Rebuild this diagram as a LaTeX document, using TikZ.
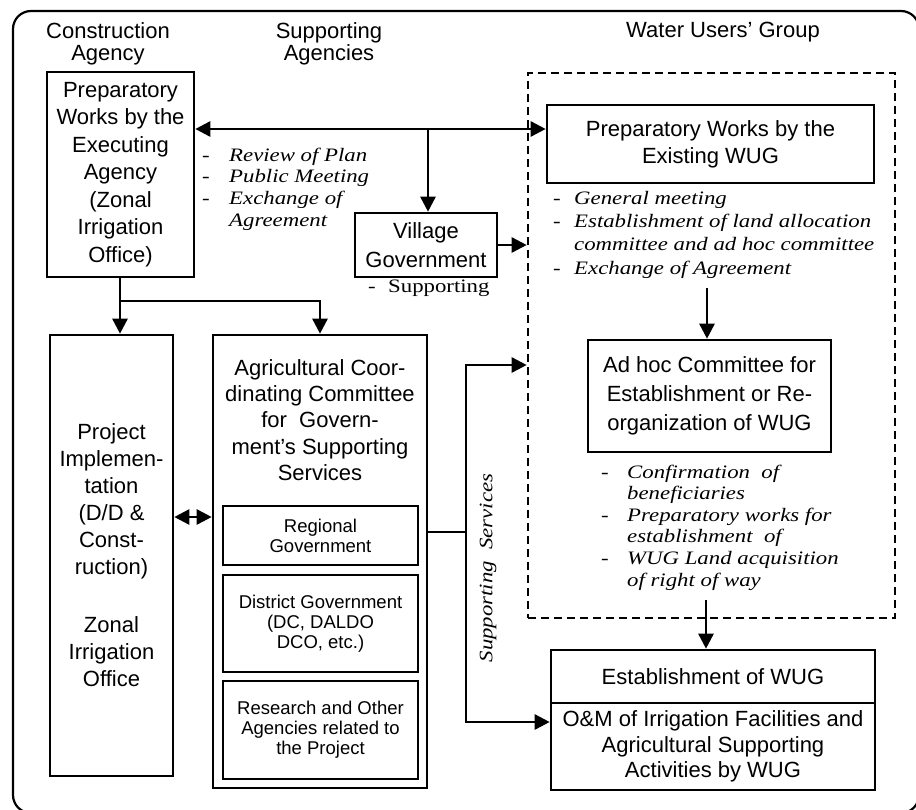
\documentclass[tikz,border=0pt]{standalone}
\usepackage{fontspec}
\setmainfont{Liberation Sans}
\newfontfamily\notefont[FakeStretch=1.2]{Liberation Serif}
\usetikzlibrary{arrows.meta}

\tikzset{
  box/.style={draw, line width=2.6pt, inner sep=0pt, align=center,
    font=\fontsize{22}{27.5}\selectfont},
  smallbox/.style={box, font=\fontsize{18.5}{20.2}\selectfont},
  header/.style={align=center, inner sep=0pt, font=\fontsize{22}{22}\selectfont},
  % notes are placed by the baseline of their last line
  note/.style={align=left, inner sep=0pt, anchor=base west,
    font=\notefont\itshape\fontsize{19}{21.6}\selectfont},
  conn/.style={line width=2.6pt},
  tip/.tip={Triangle[length=15pt, width=15pt]},
}

\begin{document}
\begin{tikzpicture}[x=1pt, y=-1pt]
\useasboundingbox (0,0) rectangle (916,809);
\fill[white] (0,0) rectangle (916,809);

% outer frame, running past the lower and right margins
\begin{scope}
  \clip (0,0) rectangle (916,809);
  \draw[line width=2.2pt, rounded corners=18pt] (13,11) rectangle (919,813);
\end{scope}

% column headings
\node[header] (hdrA) at (108,43.5) {Construction\\Agency};
\node[header] (hdrB) at (329,43.5) {Supporting\\Agencies};
\node[header] (hdrC) at (723,32) {Water Users' Group};

% construction agency column
\node[box, minimum width=147pt, minimum height=205pt] (prepA) at (120.5,174.5)
  {Preparatory\\Works by the\\Executing\\Agency\\(Zonal\\Irrigation\\Office)};
\node[box, minimum width=123pt, minimum height=441pt,
      font=\fontsize{22}{27}\selectfont] (project) at (111.5,555.5)
  {Project\\Implemen-\\tation\\(D/D \&\\Const-\\ruction)\\[31pt]Zonal\\Irrigation\\Office};

% supporting agencies column
\node[box, minimum width=142pt, minimum height=64pt] (village) at (426,245)
  {Village\\[1.5pt]Government};
\node[box, minimum width=214pt, minimum height=453pt] (agric) at (320,561.5) {};
\node[align=center, inner sep=0pt, font=\fontsize{22}{26.3}\selectfont] (agrictext) at (320,420)
  {Agricultural Coor-\\dinating Committee\\for\ \ Govern-\\ment's Supporting\\Services};
\node[smallbox, minimum width=195pt, minimum height=59pt] (regional) at (320.5,535.5)
  {Regional\\Government};
\node[smallbox, minimum width=195pt, minimum height=97pt] (district) at (320.5,623.5)
  {District Government\\(DC, DALDO\\DCO, etc.)};
\node[smallbox, minimum width=195pt, minimum height=98pt] (research) at (320.5,730)
  {Research and Other\\Agencies related to\\the Project};

% water users' group column
\node[draw, line width=2.6pt, dash pattern=on 8pt off 5pt, minimum width=367pt,
      minimum height=545pt, inner sep=0pt] (wug) at (711.5,345.5) {};
\node[box, minimum width=327pt, minimum height=78pt, font=\fontsize{22}{27}\selectfont]
  (wugprep) at (710.5,144) {Preparatory Works by the\\Existing WUG};
\node[box, minimum width=243pt, minimum height=112pt, font=\fontsize{22}{29}\selectfont]
  (adhoc) at (709.5,396) {Ad hoc Committee for\\Establishment or Re-\\organization of WUG};
\node[box, minimum width=324pt, minimum height=53pt] (estab) at (713,676.5)
  {Establishment of WUG};
\node[box, minimum width=324pt, minimum height=87pt, font=\fontsize{22}{25.5}\selectfont]
  (om) at (713,746.5)
  {O\&M of Irrigation Facilities and\\Agricultural Supporting\\Activities by WUG};

% activity notes
\node[note] (noteA) at (202,226)
  {\makebox[27pt][l]{-}Review of Plan\\
   \makebox[27pt][l]{-}Public Meeting\\
   \makebox[27pt][l]{-}Exchange of\\
   \hspace*{27pt}Agreement};
\node[note, font=\notefont\itshape\fontsize{19}{23.3}\selectfont] (noteB) at (553,274)
  {\makebox[21pt][l]{-}General meeting\\
   \makebox[21pt][l]{-}Establishment of land allocation\\
   \hspace*{21pt}committee and ad hoc committee\\
   \makebox[21pt][l]{-}Exchange of Agreement};
\node[note] (noteC) at (601,586)
  {\makebox[26pt][l]{-}Confirmation\ \ of\\
   \hspace*{26pt}beneficiaries\\
   \makebox[26pt][l]{-}Preparatory works for\\
   \hspace*{26pt}establishment\ \ of\\
   \makebox[26pt][l]{-}WUG Land acquisition\\
   \hspace*{26pt}of right of way};
\node[note, font=\notefont\fontsize{19}{21.6}\selectfont] (villnote) at (368,292)
  {\makebox[20pt][l]{-}Supporting};
\node[inner sep=0pt, rotate=90, font=\notefont\itshape\fontsize{19}{21.6}\selectfont]
  (supp) at (488,568) {Supporting\ \ Services};

% connectors
\coordinate (j1) at (428,129);
\draw[conn, tip-tip] (prepA.east |- j1) -- (wugprep.west |- j1);
\draw[conn, -tip] (j1) -- (j1 |- village.north);
\draw[conn, -tip] (village.east) -- (village.east -| wug.west);

\coordinate (j2) at (120,301);
\draw[conn, -tip] (prepA.south -| j2) -- (j2 |- project.north);
\draw[conn, -tip] (j2) -| (agric.north);

\coordinate (j3) at (0,517);
\draw[conn, tip-tip] (project.east |- j3) -- (agric.west |- j3);

\coordinate (s1) at (466,365);
\coordinate (s2) at (466,722);
\coordinate (s3) at (466,532);
\draw[conn] (agric.east |- s3) -- (s3);
\draw[conn, tip-tip] (s1 -| wug.west) -- (s1) -- (s2) -- (s2 -| om.west);

\coordinate (w1) at (707,288);
\draw[conn, -tip] (w1) -- (w1 |- adhoc.north);
\coordinate (w2) at (706,600);
\draw[conn, -tip] (w2) -- (w2 |- estab.north);
\end{tikzpicture}
\end{document}
